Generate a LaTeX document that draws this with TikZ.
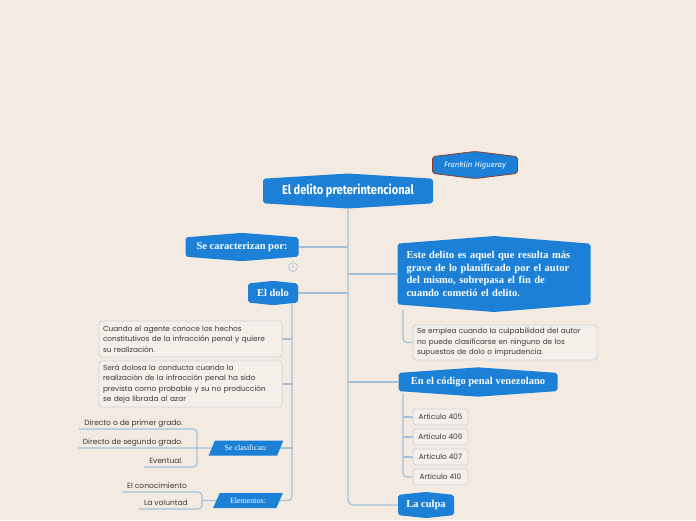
\documentclass[tikz,border=0pt]{standalone}
\usepackage{fontspec}
\newfontfamily\boxfont{Poppins}
\newfontfamily\serfont{Liberation Serif}
\newfontfamily\titlefont[FakeStretch=0.85]{Fira Sans}
\newfontfamily\handfont{Fira Sans}
\usetikzlibrary{shapes.symbols, shapes.geometric, backgrounds}
\definecolor{bgbeige}{HTML}{F3EBE2}
\definecolor{mapblue}{HTML}{1B80D6}
\definecolor{linkblue}{HTML}{A3C2DA}
\definecolor{boxline}{HTML}{C6D5E0}
\definecolor{boxfill}{HTML}{F5EFE9}
\definecolor{inkgray}{HTML}{383838}
\definecolor{namered}{HTML}{8B3A2A}

\begin{document}
\begin{tikzpicture}[
  x=1pt, y=-1pt,
  topic/.style={signal, signal to=north and south, signal pointer angle=171,
    fill=mapblue, text=white, rounded corners=2pt, inner sep=3pt},
  note/.style={draw=boxline, fill=boxfill, rounded corners=3pt, line width=0.8pt,
    text=inkgray, font=\boxfont\fontsize{7.3}{10.4}\selectfont, align=left, inner xsep=4pt},
  slant/.style={trapezium, trapezium left angle=60, trapezium right angle=120,
    trapezium stretches=true, fill=mapblue, text=white,
    font=\serfont\fontsize{8}{9}\selectfont, inner sep=1pt},
  leaf/.style={anchor=south east, text=inkgray, font=\boxfont\fontsize{7.5}{8}\selectfont,
    inner xsep=5pt, inner ysep=2pt, text height=5.5pt, text depth=1.5pt},
  link/.style={linkblue, line width=1.2pt}
]
\useasboundingbox (0,0) rectangle (696,520);

% ── Central topic and author tag ──
\node[topic, signal pointer angle=173, minimum width=170pt, minimum height=33pt,
  font=\titlefont\bfseries\fontsize{13}{14}\selectfont] (title) at (348,191)
  {El delito preterintencional};
\node[topic, draw=namered, line width=0.8pt, signal pointer angle=166,
  minimum width=85pt, minimum height=25pt,
  font=\handfont\itshape\fontsize{7.8}{8}\selectfont] (author) at (475,165)
  {Franklin Higueray};

% ── Left branches ──
\node[topic, minimum width=113pt, minimum height=27pt,
  font=\serfont\bfseries\fontsize{10.5}{11}\selectfont] (caract) at (242,247)
  {Se caracterizan por:};
\node[circle, draw=linkblue, line width=0.6pt, inner sep=0.5pt, minimum size=9pt,
  text=linkblue, font=\boxfont\fontsize{4.5}{5}\selectfont] (count) at (293,267) {3};
\node[topic, signal pointer angle=168, minimum width=50pt, minimum height=23pt,
  font=\serfont\bfseries\fontsize{10.5}{11}\selectfont] (dolo) at (273,293) {El dolo};

% ── Notes under El dolo ──
\node[note, text width=175pt, minimum height=36pt] (hechos) at (190.5,339)
  {Cuando el agente conoce los hechos\\constitutivos de la infracción penal y quiere\\su realización.};
\node[note, text width=175pt, minimum height=46pt] (prevista) at (190.5,384)
  {Será dolosa la conducta cuando la\\realización de la infracción penal ha sido\\prevista como probable y su no producción\\se deja librada al azar};

% ── Classification and elements ──
\node[slant, minimum width=75pt, minimum height=15pt] (clasif) at (246,448) {Se clasifican:};
\node[slant, minimum width=70pt, minimum height=15pt] (elem) at (248,500.5) {Elementos:};
\node[leaf] (primer) at (188,429) {Directo o de primer grado.};
\node[leaf] (segundo) at (188,448) {Directo de segundo grado.};
\node[leaf] (eventual) at (188,467) {Eventual.};
\node[leaf] (conoc) at (192,492) {El conocimiento};
\node[leaf] (volunt) at (193,509) {La voluntad};

% ── Right branches ──
\node[topic, minimum width=193pt, minimum height=75pt, text width=175pt, align=left,
  font=\serfont\bfseries\fontsize{10.5}{12.6}\selectfont] (este) at (494,274)
  {Este delito es aquel que resulta más\\grave de lo planificado por el autor\\del mismo, sobrepasa el fin de\\cuando cometió el delito.};
\node[note, text width=176pt, minimum height=35pt] (emplea) at (505,342.5)
  {Se emplea cuando la culpabilidad del autor\\no puede clasificarse en ninguno de los\\supuestos de dolo o imprudencia.};
\node[topic, signal pointer angle=172, minimum width=159pt, minimum height=28pt,
  font=\serfont\bfseries\fontsize{10.5}{11}\selectfont] (codigo) at (478,382)
  {En el código penal venezolano};
\foreach \num/\yy in {405/417, 406/437, 407/457, 410/477}
  \node[note, minimum width=55pt, minimum height=16pt, inner ysep=1pt,
    font=\boxfont\fontsize{7.4}{8}\selectfont] (art\num) at (440.5,\yy) {Articulo \num};
\node[topic, signal pointer angle=168, minimum width=56pt, minimum height=25pt,
  font=\serfont\bfseries\fontsize{10.5}{11}\selectfont] (culpa) at (426,505) {La culpa};

% ── Junction points ──
\coordinate (clasj) at (197,448);
\coordinate (elemj) at (202,500.5);
\coordinate (dolotr) at (292,302);
\coordinate (estej) at (403,310);
\coordinate (codj) at (403,393);

% ── Connectors (behind the nodes) ──
\begin{scope}[on background layer]
  \fill[bgbeige] (0,0) rectangle (696,520);
  \draw[link, rounded corners=5pt] (title.south) |- (culpa.west);
  \foreach \nd in {caract, dolo}
    \draw[link] (\nd.east) -- (\nd.east -| title.south);
  \foreach \nd in {este, codigo}
    \draw[link] (\nd.west) -- (\nd.west -| title.south);
  % El dolo subtree
  \draw[link, rounded corners=4pt] (dolotr) |- (elem.east);
  \foreach \nd in {hechos, prevista, clasif}
    \draw[link] (\nd.east) -- (\nd.east -| dolotr);
  \draw[link, rounded corners=4pt] (primer.south west) -- (primer.south east -| clasj)
    -- (eventual.south east -| clasj) -- (eventual.south west);
  \draw[link] (segundo.south west) -- (clasif.west);
  \draw[link, rounded corners=4pt] (conoc.south west) -- (conoc.south east -| elemj)
    -- (volunt.south east -| elemj) -- (volunt.south west);
  \draw[link] (elemj) -- (elem.west);
  % right subtrees
  \draw[link, rounded corners=4pt] (estej) |- (emplea.west);
  \draw[link, rounded corners=4pt] (codj) |- (art410.west);
  \foreach \num in {405, 406, 407}
    \draw[link] (art\num.west) -- (art\num.west -| codj);
\end{scope}

\end{tikzpicture}
\end{document}
